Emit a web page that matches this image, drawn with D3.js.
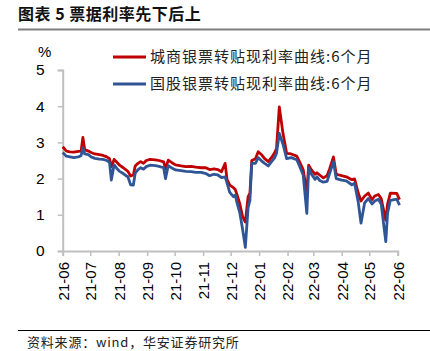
<!DOCTYPE html>
<html>
<head>
<meta charset="utf-8">
<script src="https://cdn.jsdelivr.net/npm/d3@7"></script>
<style>
  body { margin: 0; background: #fff; }
  svg { display: block; }
</style>
</head>
<body>
<div id="container"></div>
<script>
// data: dates and the two 6-month rediscount rate series (%)
let dates = [
  "2021-06-01", "2021-06-05", "2021-06-09", "2021-06-13", "2021-06-18", "2021-06-21", "2021-06-23", "2021-06-25",
  "2021-06-29", "2021-07-02", "2021-07-06", "2021-07-11", "2021-07-15", "2021-07-19", "2021-07-22", "2021-07-24",
  "2021-07-27", "2021-07-30", "2021-08-02", "2021-08-06", "2021-08-09", "2021-08-11", "2021-08-14", "2021-08-17",
  "2021-08-19", "2021-08-22", "2021-08-25", "2021-08-28", "2021-08-31", "2021-09-04", "2021-09-10", "2021-09-14",
  "2021-09-19", "2021-09-21", "2021-09-24", "2021-09-28", "2021-10-02", "2021-10-08", "2021-10-13", "2021-10-19",
  "2021-10-24", "2021-10-30", "2021-11-04", "2021-11-08", "2021-11-13", "2021-11-17", "2021-11-21", "2021-11-25",
  "2021-11-27", "2021-11-30", "2021-12-04", "2021-12-06", "2021-12-08", "2021-12-11", "2021-12-14", "2021-12-17",
  "2021-12-20", "2021-12-22", "2021-12-24", "2021-12-28", "2021-12-31", "2022-01-04", "2022-01-07", "2022-01-11",
  "2022-01-15", "2022-01-18", "2022-01-20", "2022-01-23", "2022-01-27", "2022-01-31", "2022-02-05", "2022-02-11",
  "2022-02-14", "2022-02-18", "2022-02-22", "2022-02-24", "2022-02-27", "2022-03-03", "2022-03-05", "2022-03-08",
  "2022-03-12", "2022-03-16", "2022-03-19", "2022-03-23", "2022-03-26", "2022-04-01", "2022-04-06", "2022-04-12",
  "2022-04-15", "2022-04-19", "2022-04-22", "2022-04-26", "2022-04-30", "2022-05-04", "2022-05-07", "2022-05-11",
  "2022-05-14", "2022-05-19", "2022-05-21", "2022-05-24", "2022-05-31", "2022-06-03"
];
let cityBank = [
  2.88, 2.76, 2.74, 2.73, 2.75, 2.76, 3.14, 2.80,
  2.76, 2.72, 2.68, 2.66, 2.64, 2.60, 2.55, 2.33,
  2.53, 2.45, 2.37, 2.30, 2.24, 2.20, 2.07, 2.10,
  2.35, 2.42, 2.47, 2.42, 2.50, 2.53, 2.52, 2.50,
  2.46, 2.27, 2.51, 2.44, 2.38, 2.35, 2.33, 2.34,
  2.32, 2.30, 2.30, 2.25, 2.27, 2.25, 2.19, 2.42,
  1.98, 1.82, 1.75, 1.70, 1.55, 1.30, 0.95, 0.80,
  1.50, 1.60, 2.50, 2.55, 2.74, 2.65, 2.55, 2.47,
  2.60, 2.72, 2.84, 3.98, 3.25, 2.70, 2.68, 2.62,
  2.47, 2.25, 1.60, 2.37, 2.24, 2.12, 2.16, 2.10,
  2.02, 2.08, 2.28, 2.60, 2.12, 2.08, 2.05, 1.97,
  1.99, 1.60, 1.38, 1.52, 1.60, 1.42, 1.52, 1.56,
  1.45, 0.85, 1.30, 1.60, 1.59, 1.42
];
let stateBank = [
  2.72, 2.62, 2.60, 2.58, 2.60, 2.63, 2.85, 2.68,
  2.66, 2.60, 2.56, 2.54, 2.53, 2.50, 2.45, 1.96,
  2.38, 2.28, 2.20, 2.14, 2.08, 2.05, 1.83, 1.82,
  2.15, 2.25, 2.30, 2.26, 2.33, 2.37, 2.36, 2.34,
  2.30, 2.00, 2.36, 2.29, 2.24, 2.22, 2.20, 2.19,
  2.17, 2.17, 2.14, 2.08, 2.12, 2.10, 2.03, 2.05,
  1.88, 1.62, 1.50, 1.55, 1.32, 1.05, 0.60, 0.10,
  1.20, 1.40, 2.42, 2.42, 2.58, 2.48, 2.42, 2.35,
  2.48, 2.58, 2.70, 3.25, 2.95, 2.55, 2.58, 2.52,
  2.35, 2.10, 1.04, 2.30, 2.12, 1.98, 2.05, 1.95,
  1.90, 1.92, 2.15, 2.47, 2.00, 1.96, 1.94, 1.83,
  1.87, 1.35, 0.77, 1.33, 1.45, 1.30, 1.38, 1.43,
  1.30, 0.26, 1.05, 1.40, 1.43, 1.27
];
let xTickLabels = ["21-06", "21-07", "21-08", "21-09", "21-10", "21-11", "21-12",
  "22-01", "22-02", "22-03", "22-04", "22-05", "22-06"];
let yTicks = [0, 1, 2, 3, 4, 5];
let seriesNames = ["城商银票转贴现利率曲线:6个月", "国股银票转贴现利率曲线:6个月"];
let colors = ["#c00000", "#2f5597"];

let parse = d3.timeParse("%Y-%m-%d");
let rows = dates.map((d, i) => ({ date: parse(d), a: cityBank[i], b: stateBank[i] }));
let tickDates = xTickLabels.map(s => parse("20" + s + "-01"));

//画布
let width = 430, height = 351;
let svg = d3.select("#container")
  .append("svg")
  .attr("width", width)
  .attr("height", height)
  .style("font-family", "'Liberation Sans', Arial, sans-serif");

let cjk = "'Noto Sans CJK SC', sans-serif";

// title
svg.append("text")
  .attr("x", 18).attr("y", 20)
  .style("font-family", cjk)
  .style("font-size", "16px")
  .style("font-weight", "bold")
  .style("letter-spacing", "0.5px")
  .attr("fill", "#111")
  .text("图表 5  票据利率先下后上");
svg.append("line")
  .attr("x1", 18).attr("x2", 430).attr("y1", 29.5).attr("y2", 29.5)
  .attr("stroke", "#7f7f7f").attr("stroke-width", 2);

//比例尺
let xScale = d3.scaleTime()
  .domain([tickDates[0], tickDates[tickDates.length - 1]])
  .range([62.7, 397.7]);
let yScale = d3.scaleLinear()
  .domain([0, 5])
  .range([251, 70]);

//坐标轴
let xAxis = d3.axisBottom(xScale)
  .tickValues(tickDates)
  .tickSize(5)
  .tickFormat((d, i) => xTickLabels[i]);
let yAxis = d3.axisLeft(yScale)
  .tickValues(yTicks)
  .tickSize(5)
  .tickFormat(d3.format("d"));

let xg = svg.append("g")
  .attr("transform", "translate(0," + yScale(0) + ")")
  .call(xAxis);
xg.select(".domain").attr("stroke", "#bfbfbf").attr("stroke-width", 2);
xg.selectAll(".tick line").attr("stroke", "#bfbfbf").attr("stroke-width", 1.5);
xg.selectAll(".tick text")
  .attr("fill", "#000")
  .style("font-size", "15px")
  .attr("text-anchor", "end")
  .attr("transform", "rotate(-90)")
  .attr("x", -11)
  .attr("y", 0)
  .attr("dy", "0.36em");

let yg = svg.append("g")
  .attr("transform", "translate(" + xScale.range()[0] + ",0)")
  .call(yAxis);
yg.select(".domain").attr("stroke", "#bfbfbf").attr("stroke-width", 2);
yg.selectAll(".tick line").attr("stroke", "#bfbfbf").attr("stroke-width", 1.5);
yg.selectAll(".tick text")
  .attr("fill", "#000")
  .style("font-size", "15.5px")
  .attr("x", -18);

svg.append("text")
  .attr("x", 38).attr("y", 57)
  .style("font-size", "15px")
  .text("%");

// lines
let lineA = d3.line().x(d => xScale(d.date)).y(d => yScale(d.a));
let lineB = d3.line().x(d => xScale(d.date)).y(d => yScale(d.b));

svg.append("path")
  .datum(rows)
  .attr("d", lineA)
  .attr("fill", "none")
  .attr("stroke", colors[0])
  .attr("stroke-width", 2.8)
  .attr("stroke-linejoin", "round");
svg.append("path")
  .datum(rows)
  .attr("d", lineB)
  .attr("fill", "none")
  .attr("stroke", colors[1])
  .attr("stroke-width", 2.8)
  .attr("stroke-linejoin", "round");

// legend
let legend = svg.selectAll(".legend")
  .data(seriesNames)
  .enter()
  .append("g")
  .attr("class", "legend")
  .attr("transform", (d, i) => "translate(113," + (57 + i * 27) + ")");
legend.append("line")
  .attr("x1", 0).attr("x2", 33)
  .attr("stroke", (d, i) => colors[i])
  .attr("stroke-width", 3);
legend.append("text")
  .attr("x", 37).attr("dy", "0.36em")
  .style("font-family", cjk)
  .style("font-size", "15px")
  .style("letter-spacing", "1px")
  .attr("fill", "#222")
  .text(d => d);

// source
svg.append("line")
  .attr("x1", 18).attr("x2", 430).attr("y1", 330.5).attr("y2", 330.5)
  .attr("stroke", "#000").attr("stroke-width", 1);
svg.append("text")
  .attr("x", 27).attr("y", 347)
  .style("font-family", cjk)
  .style("font-size", "13px")
  .style("letter-spacing", "0.8px")
  .attr("fill", "#222")
  .text("资料来源：wind，华安证券研究所");
</script>
</body>
</html>
